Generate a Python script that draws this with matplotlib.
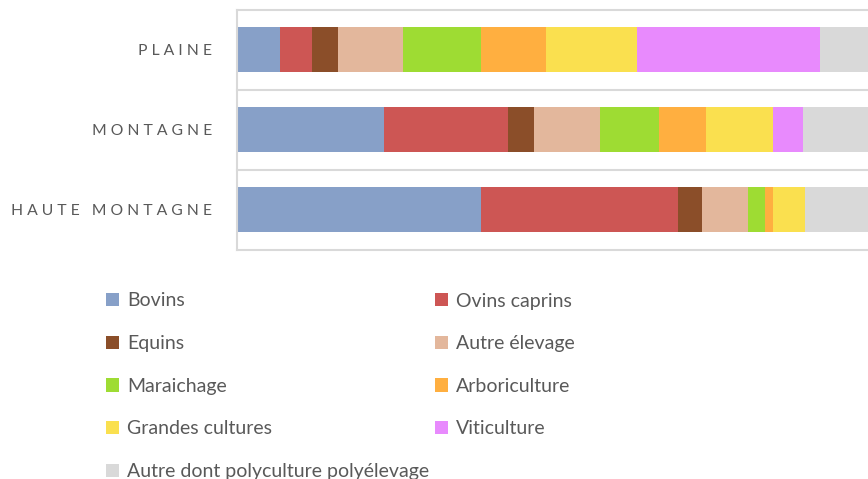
import matplotlib
matplotlib.use("Agg")
import matplotlib.pyplot as plt
import numpy as np

# zones (top to bottom) and share of farms per production type, in %
zones = ["P L A I N E", "M O N T A G N E", "H A U T E   M O N T A G N E"]
types = ["Bovins", "Ovins caprins", "Equins", "Autre élevage", "Maraichage",
         "Arboriculture", "Grandes cultures", "Viticulture",
         "Autre dont polyculture polyélevage"]

bovins = [6.4, 22.0, 36.5]
ovins_caprins = [4.8, 18.6, 29.5]
equins = [3.9, 3.8, 3.6]
autre_elevage = [9.8, 9.9, 6.9]
maraichage = [11.6, 8.8, 2.5]
arboriculture = [9.7, 7.1, 1.2]
grandes_cultures = [13.6, 9.9, 4.7]
viticulture = [27.4, 4.6, 0.0]
autre = [12.8, 15.3, 15.1]

series = [bovins, ovins_caprins, equins, autre_elevage, maraichage,
          arboriculture, grandes_cultures, viticulture, autre]
colors = ["#87A0C8", "#CD5654", "#8B4E29", "#E3B79C", "#9EDC33",
          "#FFAF40", "#FAE04F", "#E88AFD", "#D9D9D9"]

plt.rcParams['font.family'] = ['Lato', 'DejaVu Sans']
text_color = "#595959"
grid_color = "#D9D9D9"

fig = plt.figure(figsize=(8.68, 4.79), dpi=100)
W, H = 868, 479
# plot area runs past the right edge of the picture (cropped chart)
ax = fig.add_axes([236.7 / W, 1 - 249.5 / H, 669 / W, 240 / H])

y = np.arange(len(zones))
left = np.zeros(len(zones))
handles = []
for vals, col, name in zip(series, colors, types):
    b = ax.barh(y, vals, left=left, height=0.5625, color=col, label=name,
                edgecolor="none")
    handles.append(b)
    left += np.array(vals)

ax.set_xlim(0, 100)
ax.set_ylim(2.5, -0.5)
ax.set_yticks(y)
ax.set_yticklabels(zones, color=text_color, fontsize=11.3)
ax.tick_params(axis="y", length=0, pad=17.5)
ax.set_xticks([])
for s in ["top", "right", "bottom"]:
    ax.spines[s].set_visible(False)
ax.spines["left"].set_color(grid_color)
ax.spines["left"].set_linewidth(1.5)
for g in [-0.5, 0.5, 1.5, 2.5]:
    ax.axhline(g, color=grid_color, linewidth=1.5, clip_on=False, zorder=0)

# legend in rows of two, matplotlib fills by column
order = [0, 2, 4, 6, 8, 1, 3, 5, 7]
leg = fig.legend([handles[i] for i in order], [types[i] for i in order],
                 loc="upper left", bbox_to_anchor=(106 / W, 1 - 292.5 / H),
                 ncol=2, frameon=False, fontsize=14, borderpad=0,
                 borderaxespad=0, handlelength=0.68, handleheight=0.68,
                 handletextpad=0.4, labelspacing=1.32, columnspacing=0.3)
for t in leg.get_texts():
    t.set_color(text_color)

fig.savefig("out.png", dpi=100)
